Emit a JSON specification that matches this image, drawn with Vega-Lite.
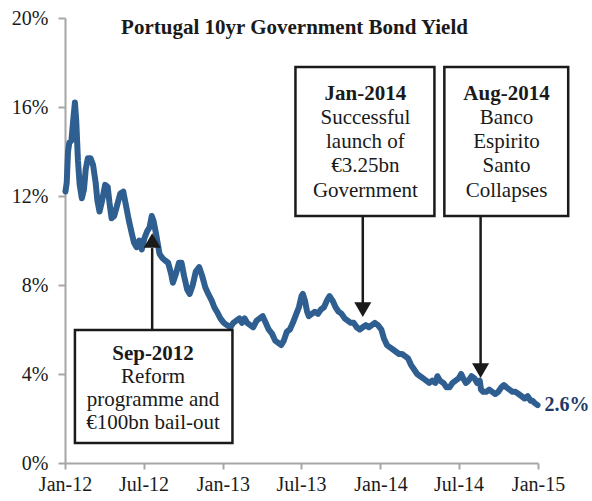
{
  "$schema": "https://vega.github.io/schema/vega-lite/v6.json",
  "width": 473,
  "height": 445,
  "autosize": {"type": "none"},
  "padding": {"left": 65, "top": 18, "right": 54, "bottom": 38},
  "background": "white",
  "title": {"text": "Portugal 10yr Government Bond Yield", "font": "Liberation Serif", "fontSize": 21, "fontWeight": "bold", "color": "#1a1a1a", "anchor": "middle", "offset": -30, "dx": -7},
  "config": {
    "view": {"stroke": null},
    "axis": {"domainColor": "#A6A6A6", "domainWidth": 2, "tickColor": "#A6A6A6", "tickWidth": 2, "labelFont": "Liberation Serif", "labelFontSize": 20, "labelColor": "#1a1a1a", "grid": false, "title": null}
  },
  "datasets": {
    "yield": [
      {"date": "2012-01-02", "v": 12.2}, {"date": "2012-01-05", "v": 12.6}, {"date": "2012-01-08", "v": 14.0}, {"date": "2012-01-11", "v": 14.4},
      {"date": "2012-01-16", "v": 14.5}, {"date": "2012-01-20", "v": 15.4}, {"date": "2012-01-24", "v": 16.2}, {"date": "2012-01-27", "v": 15.4},
      {"date": "2012-01-31", "v": 13.6}, {"date": "2012-02-04", "v": 12.5}, {"date": "2012-02-09", "v": 11.9}, {"date": "2012-02-14", "v": 12.3},
      {"date": "2012-02-18", "v": 13.2}, {"date": "2012-02-23", "v": 13.7}, {"date": "2012-02-29", "v": 13.7}, {"date": "2012-03-06", "v": 13.4},
      {"date": "2012-03-12", "v": 12.6}, {"date": "2012-03-16", "v": 11.8}, {"date": "2012-03-21", "v": 11.3}, {"date": "2012-03-27", "v": 11.8},
      {"date": "2012-04-03", "v": 12.5}, {"date": "2012-04-09", "v": 12.4}, {"date": "2012-04-13", "v": 11.7}, {"date": "2012-04-18", "v": 11.0},
      {"date": "2012-04-24", "v": 11.1}, {"date": "2012-05-01", "v": 11.6}, {"date": "2012-05-08", "v": 12.1}, {"date": "2012-05-15", "v": 12.2},
      {"date": "2012-05-21", "v": 11.6}, {"date": "2012-05-28", "v": 10.9}, {"date": "2012-06-04", "v": 10.3}, {"date": "2012-06-09", "v": 9.9},
      {"date": "2012-06-15", "v": 9.7}, {"date": "2012-06-21", "v": 10.0}, {"date": "2012-06-27", "v": 9.6}, {"date": "2012-07-03", "v": 10.1},
      {"date": "2012-07-09", "v": 10.4}, {"date": "2012-07-15", "v": 10.6}, {"date": "2012-07-20", "v": 11.1}, {"date": "2012-07-24", "v": 10.9},
      {"date": "2012-07-30", "v": 10.3}, {"date": "2012-08-07", "v": 9.4}, {"date": "2012-08-14", "v": 9.2}, {"date": "2012-08-20", "v": 9.1},
      {"date": "2012-08-27", "v": 9.0}, {"date": "2012-09-03", "v": 8.5}, {"date": "2012-09-07", "v": 8.1}, {"date": "2012-09-14", "v": 8.5},
      {"date": "2012-09-21", "v": 9.0}, {"date": "2012-09-27", "v": 9.0}, {"date": "2012-10-03", "v": 8.4}, {"date": "2012-10-10", "v": 7.8},
      {"date": "2012-10-16", "v": 7.6}, {"date": "2012-10-23", "v": 8.0}, {"date": "2012-10-30", "v": 8.6}, {"date": "2012-11-07", "v": 8.8},
      {"date": "2012-11-14", "v": 8.4}, {"date": "2012-11-21", "v": 7.9}, {"date": "2012-11-28", "v": 7.6}, {"date": "2012-12-06", "v": 7.3},
      {"date": "2012-12-12", "v": 7.0}, {"date": "2012-12-18", "v": 6.8}, {"date": "2012-12-26", "v": 6.5}, {"date": "2013-01-03", "v": 6.3},
      {"date": "2013-01-10", "v": 6.2}, {"date": "2013-01-18", "v": 6.1}, {"date": "2013-01-25", "v": 6.3}, {"date": "2013-02-01", "v": 6.4},
      {"date": "2013-02-08", "v": 6.5}, {"date": "2013-02-14", "v": 6.3}, {"date": "2013-02-20", "v": 6.5}, {"date": "2013-02-26", "v": 6.3},
      {"date": "2013-03-05", "v": 6.2}, {"date": "2013-03-12", "v": 6.1}, {"date": "2013-03-20", "v": 6.4}, {"date": "2013-03-27", "v": 6.5},
      {"date": "2013-04-03", "v": 6.6}, {"date": "2013-04-10", "v": 6.3}, {"date": "2013-04-17", "v": 6.0}, {"date": "2013-04-25", "v": 5.8},
      {"date": "2013-05-02", "v": 5.5}, {"date": "2013-05-09", "v": 5.4}, {"date": "2013-05-16", "v": 5.3}, {"date": "2013-05-22", "v": 5.5},
      {"date": "2013-05-29", "v": 5.9}, {"date": "2013-06-05", "v": 6.0}, {"date": "2013-06-12", "v": 6.3}, {"date": "2013-06-20", "v": 6.7},
      {"date": "2013-06-26", "v": 7.0}, {"date": "2013-07-02", "v": 7.5}, {"date": "2013-07-05", "v": 7.6}, {"date": "2013-07-10", "v": 7.3},
      {"date": "2013-07-15", "v": 6.8}, {"date": "2013-07-19", "v": 6.6}, {"date": "2013-07-26", "v": 6.7}, {"date": "2013-08-02", "v": 6.8},
      {"date": "2013-08-09", "v": 6.7}, {"date": "2013-08-16", "v": 6.9}, {"date": "2013-08-23", "v": 7.0}, {"date": "2013-08-30", "v": 7.3},
      {"date": "2013-09-05", "v": 7.5}, {"date": "2013-09-12", "v": 7.3}, {"date": "2013-09-19", "v": 7.0}, {"date": "2013-09-26", "v": 6.8},
      {"date": "2013-10-03", "v": 6.7}, {"date": "2013-10-10", "v": 6.5}, {"date": "2013-10-17", "v": 6.4}, {"date": "2013-10-24", "v": 6.3},
      {"date": "2013-10-31", "v": 6.3}, {"date": "2013-11-07", "v": 6.1}, {"date": "2013-11-14", "v": 6.0}, {"date": "2013-11-21", "v": 6.1},
      {"date": "2013-11-28", "v": 6.2}, {"date": "2013-12-05", "v": 6.1}, {"date": "2013-12-12", "v": 6.2}, {"date": "2013-12-19", "v": 6.3},
      {"date": "2013-12-26", "v": 6.2}, {"date": "2014-01-03", "v": 6.0}, {"date": "2014-01-09", "v": 5.6}, {"date": "2014-01-16", "v": 5.3},
      {"date": "2014-01-23", "v": 5.2}, {"date": "2014-01-30", "v": 5.1}, {"date": "2014-02-06", "v": 5.0}, {"date": "2014-02-13", "v": 4.9},
      {"date": "2014-02-20", "v": 4.9}, {"date": "2014-02-27", "v": 4.8}, {"date": "2014-03-06", "v": 4.7}, {"date": "2014-03-13", "v": 4.4},
      {"date": "2014-03-20", "v": 4.2}, {"date": "2014-03-27", "v": 4.0}, {"date": "2014-04-03", "v": 3.9}, {"date": "2014-04-10", "v": 3.8},
      {"date": "2014-04-17", "v": 3.7}, {"date": "2014-04-24", "v": 3.6}, {"date": "2014-05-01", "v": 3.7}, {"date": "2014-05-08", "v": 3.6},
      {"date": "2014-05-13", "v": 3.9}, {"date": "2014-05-19", "v": 3.7}, {"date": "2014-05-27", "v": 3.6}, {"date": "2014-06-03", "v": 3.4},
      {"date": "2014-06-10", "v": 3.4}, {"date": "2014-06-17", "v": 3.6}, {"date": "2014-06-24", "v": 3.7}, {"date": "2014-07-01", "v": 3.8},
      {"date": "2014-07-07", "v": 4.0}, {"date": "2014-07-12", "v": 3.8}, {"date": "2014-07-18", "v": 3.6}, {"date": "2014-07-24", "v": 3.7},
      {"date": "2014-07-31", "v": 3.9}, {"date": "2014-08-07", "v": 3.8}, {"date": "2014-08-13", "v": 3.6}, {"date": "2014-08-19", "v": 3.7},
      {"date": "2014-08-22", "v": 3.3}, {"date": "2014-08-27", "v": 3.2}, {"date": "2014-09-03", "v": 3.2}, {"date": "2014-09-10", "v": 3.3},
      {"date": "2014-09-17", "v": 3.2}, {"date": "2014-09-24", "v": 3.1}, {"date": "2014-10-01", "v": 3.2}, {"date": "2014-10-08", "v": 3.4},
      {"date": "2014-10-14", "v": 3.5}, {"date": "2014-10-20", "v": 3.4}, {"date": "2014-10-27", "v": 3.3}, {"date": "2014-11-03", "v": 3.2},
      {"date": "2014-11-10", "v": 3.2}, {"date": "2014-11-17", "v": 3.1}, {"date": "2014-11-24", "v": 3.0}, {"date": "2014-12-01", "v": 2.9},
      {"date": "2014-12-08", "v": 3.0}, {"date": "2014-12-15", "v": 2.8}, {"date": "2014-12-19", "v": 2.8}, {"date": "2014-12-24", "v": 2.7},
      {"date": "2014-12-31", "v": 2.6}
    ],
    "boxes": [
      {"x1": "2012-01-24", "x2": "2013-01-23", "y1": 0.9, "y2": 5.98},
      {"x1": "2013-06-18", "x2": "2014-05-06", "y1": 11.1, "y2": 17.8},
      {"x1": "2014-05-29", "x2": "2015-03-12", "y1": 11.1, "y2": 17.8}
    ],
    "arrows": [
      {"date": "2012-07-21", "from": 5.98, "to": 9.66, "head": 10.0, "dir": "up"},
      {"date": "2013-11-21", "from": 11.1, "to": 7.19, "head": 6.89, "dir": "down"},
      {"date": "2014-08-21", "from": 11.1, "to": 4.45, "head": 4.15, "dir": "down"}
    ],
    "heads": [
      {"date": "2012-07-23", "v": 4.9, "label": "Sep-2012"},
      {"date": "2013-11-27", "v": 16.58, "label": "Jan-2014"},
      {"date": "2014-10-20", "v": 16.58, "label": "Aug-2014"}
    ],
    "lines": [
      {"date": "2012-07-23", "v": 3.87, "label": "Reform"},
      {"date": "2012-07-23", "v": 2.83, "label": "programme and"},
      {"date": "2012-07-23", "v": 1.8, "label": "€100bn bail-out"},
      {"date": "2013-11-27", "v": 15.5, "label": "Successful"},
      {"date": "2013-11-27", "v": 14.43, "label": "launch of"},
      {"date": "2013-11-27", "v": 13.35, "label": "€3.25bn"},
      {"date": "2013-11-27", "v": 12.22, "label": "Government"},
      {"date": "2014-10-20", "v": 15.5, "label": "Banco"},
      {"date": "2014-10-20", "v": 14.43, "label": "Espirito"},
      {"date": "2014-10-20", "v": 13.35, "label": "Santo"},
      {"date": "2014-10-20", "v": 12.22, "label": "Collapses"}
    ],
    "endlabel": [{"date": "2014-12-31", "v": 2.6, "label": "2.6%"}]
  },
  "layer": [
    {
      "data": {"name": "yield"},
      "mark": {"type": "line", "color": "#2F5E91", "strokeWidth": 6, "strokeJoin": "round", "strokeCap": "round"},
      "encoding": {
        "x": {"field": "date", "type": "temporal",
          "scale": {"domain": [{"year": 2012, "month": 1, "date": 1}, {"year": 2015, "month": 1, "date": 1}], "nice": false},
          "axis": {"values": [{"year": 2012, "month": 1, "date": 1}, {"year": 2012, "month": 7, "date": 1}, {"year": 2013, "month": 1, "date": 1}, {"year": 2013, "month": 7, "date": 1}, {"year": 2014, "month": 1, "date": 1}, {"year": 2014, "month": 7, "date": 1}, {"year": 2015, "month": 1, "date": 1}],
            "format": "%b-%y", "tickSize": 6, "labelPadding": 5, "labelFlush": false, "labelOverlap": false}},
        "y": {"field": "v", "type": "quantitative",
          "scale": {"domain": [0, 20], "nice": false, "zero": true},
          "axis": {"values": [0, 4, 8, 12, 16, 20], "labelExpr": "datum.value + '%'", "tickSize": 7, "labelPadding": 10}}
      }
    },
    {
      "data": {"name": "boxes"},
      "mark": {"type": "rect", "fill": "white", "stroke": "#1a1a1a", "strokeWidth": 2.5},
      "encoding": {
        "x": {"field": "x1", "type": "temporal"},
        "x2": {"field": "x2"},
        "y": {"field": "y1", "type": "quantitative"},
        "y2": {"field": "y2"}
      }
    },
    {
      "data": {"name": "arrows"},
      "mark": {"type": "rule", "color": "#1a1a1a", "strokeWidth": 2.5},
      "encoding": {
        "x": {"field": "date", "type": "temporal"},
        "y": {"field": "from", "type": "quantitative"},
        "y2": {"field": "to"}
      }
    },
    {
      "data": {"name": "arrows"},
      "mark": {"type": "point", "filled": true, "color": "#1a1a1a", "size": 290, "opacity": 1},
      "encoding": {
        "x": {"field": "date", "type": "temporal"},
        "y": {"field": "head", "type": "quantitative"},
        "shape": {"field": "dir", "type": "nominal", "scale": {"domain": ["up", "down"], "range": ["triangle-up", "triangle-down"]}, "legend": null}
      }
    },
    {
      "data": {"name": "heads"},
      "mark": {"type": "text", "font": "Liberation Serif", "fontSize": 21, "fontWeight": "bold", "color": "#1a1a1a", "align": "center", "baseline": "middle"},
      "encoding": {
        "x": {"field": "date", "type": "temporal"},
        "y": {"field": "v", "type": "quantitative"},
        "text": {"field": "label"}
      }
    },
    {
      "data": {"name": "lines"},
      "mark": {"type": "text", "font": "Liberation Serif", "fontSize": 21, "color": "#1a1a1a", "align": "center", "baseline": "middle"},
      "encoding": {
        "x": {"field": "date", "type": "temporal"},
        "y": {"field": "v", "type": "quantitative"},
        "text": {"field": "label"}
      }
    },
    {
      "data": {"name": "endlabel"},
      "mark": {"type": "text", "font": "Liberation Serif", "fontSize": 20, "fontWeight": "bold", "color": "#1F3A68", "align": "left", "baseline": "middle", "dx": 7},
      "encoding": {
        "x": {"field": "date", "type": "temporal"},
        "y": {"field": "v", "type": "quantitative"},
        "text": {"field": "label"}
      }
    }
  ]
}
